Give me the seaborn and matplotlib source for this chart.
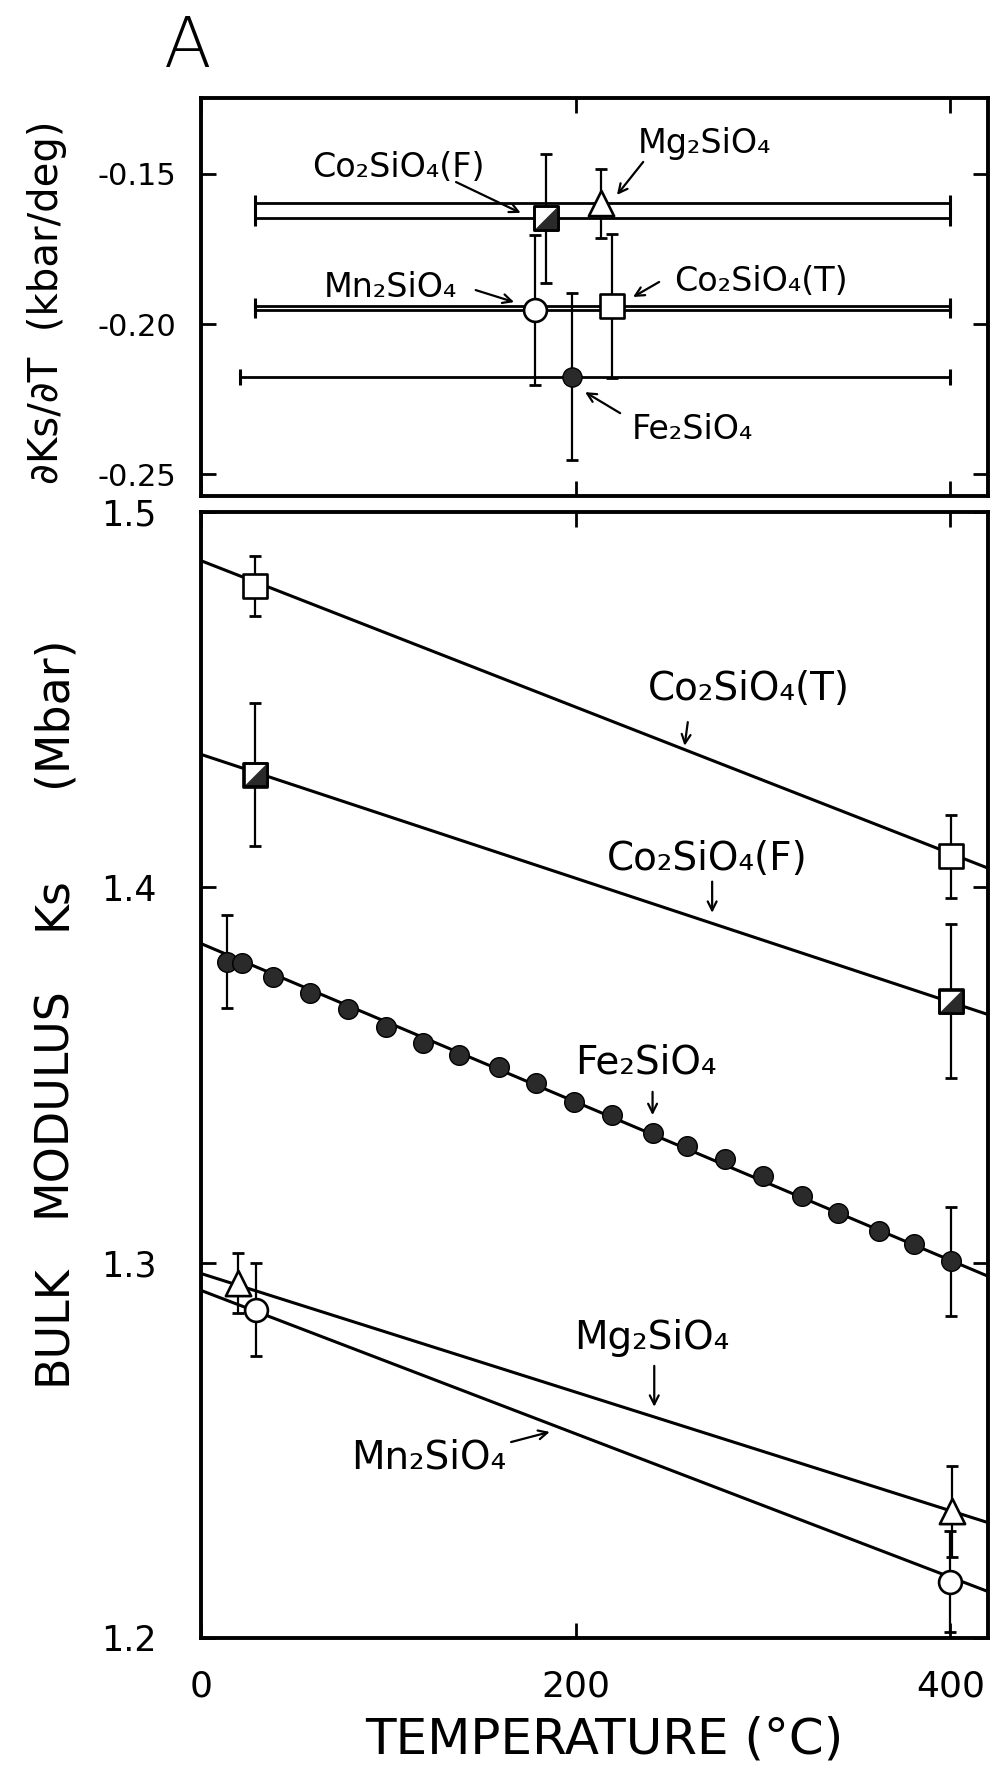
import numpy as np
import pandas as pd
import matplotlib
matplotlib.use("Agg")
import matplotlib.pyplot as plt
from matplotlib.path import Path
import seaborn as sns

# ---------------- data ----------------
compounds = ["Co2SiO4(T)", "Co2SiO4(F)", "Fe2SiO4", "Mg2SiO4", "Mn2SiO4"]
labels = ["Co₂SiO₄(T)", "Co₂SiO₄(F)", "Fe₂SiO₄", "Mg₂SiO₄", "Mn₂SiO₄"]

# upper panel: dKs/dT (kbar/deg), plotted at a mid temperature, with temperature range bars
dk_T = [219.6, 184.0, 198.0, 213.5, 178.0]
dk_val = [-0.1940, -0.1647, -0.2175, -0.1597, -0.1953]
dk_err = [0.0240, 0.0215, 0.0277, 0.0115, 0.0250]
range_lo = [29, 29, 21, 29, 29]
range_hi = [400, 400, 400, 400, 400]

# lower panel: fitted lines Ks = K0 + slope*T  (Mbar)
fit_K0 = [1.4870, 1.4354, 1.3850, 1.2971, 1.2926]
fit_slope = [-0.000195, -0.000165, -0.000211, -0.000158, -0.000191]

cot_T = [29.0, 400.4]
cot_K = [1.4803, 1.4082]
cot_err = [0.0080, 0.0110]

cof_T = [29.0, 400.4]
cof_K = [1.4300, 1.3696]
cof_err = [0.0190, 0.0205]

mg_T = [19.6, 401.0]
mg_K = [1.2945, 1.2337]
mg_err = [0.0080, 0.0120]

mn_T = [29.2, 400.0]
mn_K = [1.2875, 1.2150]
mn_err = [0.0125, 0.0135]

fe_T = [13.7, 21.7, 38.3, 58.2, 78.3, 98.6, 118.4, 137.7, 159.3, 178.9, 199.1,
        219.6, 241.0, 259.3, 279.9, 300.0, 320.5, 340.0, 361.6, 380.3, 400.3]
fe_K = [1.3802, 1.3799, 1.3760, 1.3719, 1.3675, 1.3627, 1.3584, 1.3553, 1.3522,
        1.3478, 1.3429, 1.3393, 1.3346, 1.3311, 1.3275, 1.3232, 1.3178, 1.3131,
        1.3085, 1.3049, 1.3004]
fe_err_T = [13.7, 400.3]
fe_err_K = [1.3802, 1.3004]
fe_err = [0.0124, 0.0145]

# ---------------- style ----------------
sns.set_style("ticks")
plt.rcParams["font.family"] = ["DejaVu Sans"]
plt.rcParams["axes.unicode_minus"] = False
for key in ["text.color", "axes.labelcolor", "xtick.color", "ytick.color",
            "axes.edgecolor"]:
    plt.rcParams[key] = "black"

INK = "black"
DARK = "#2a2a2a"
half_tri = Path([(-1, -1), (1, -1), (1, 1), (-1, -1)],
                [Path.MOVETO, Path.LINETO, Path.LINETO, Path.CLOSEPOLY])

fig = plt.figure(figsize=(10.07, 17.88), dpi=100)
ax1 = fig.add_axes([0.1996, 0.7226, 0.7815, 0.2226])
ax2 = fig.add_axes([0.1996, 0.0839, 0.7815, 0.6298])

for ax in (ax1, ax2):
    for sp in ax.spines.values():
        sp.set_linewidth(2.8)
        sp.set_color(INK)
    ax.tick_params(direction="in", length=11, width=2, top=True, right=True,
                   colors=INK, labelcolor=INK)
    ax.set_xlim(0, 420)
    ax.set_xticks([0, 200, 400])
    ax.set_xlabel("")
    ax.set_ylabel("")
    ax.grid(False)


def marker_points(ax, x, y, kind, size):
    if kind == "square":
        sns.scatterplot(x=x, y=y, marker="s", s=size, color="white",
                        edgecolor=INK, linewidth=1.9, zorder=5, ax=ax)
    elif kind == "half":
        sns.scatterplot(x=x, y=y, marker="s", s=size, color="white",
                        edgecolor=INK, linewidth=1.9, zorder=5, ax=ax)
        sns.scatterplot(x=x, y=y, marker=half_tri, s=size, color=DARK,
                        edgecolor=DARK, linewidth=0.5, zorder=6, ax=ax)
        sns.scatterplot(x=x, y=y, marker="s", s=size, color="none",
                        edgecolor=INK, linewidth=1.9, zorder=7, ax=ax)
    elif kind == "open_circle":
        sns.scatterplot(x=x, y=y, marker="o", s=size, color="white",
                        edgecolor=INK, linewidth=1.9, zorder=5, ax=ax)
    elif kind == "triangle":
        sns.scatterplot(x=x, y=y, marker="^", s=size, color="white",
                        edgecolor=INK, linewidth=1.9, zorder=5, ax=ax)
    elif kind == "dot":
        sns.scatterplot(x=x, y=y, marker="o", s=size, color=DARK,
                        edgecolor=INK, linewidth=1.0, zorder=5, ax=ax)


kinds = ["square", "half", "dot", "triangle", "open_circle"]
sizes = [290, 290, 190, 330, 270]

# ---------------- upper panel ----------------
for i in range(len(compounds)):
    mid = (range_lo[i] + range_hi[i]) / 2
    half = (range_hi[i] - range_lo[i]) / 2
    ax1.errorbar([mid], [dk_val[i]], xerr=[half], fmt="none", ecolor=INK,
                 elinewidth=2.0, capsize=5.5, capthick=2.2, zorder=1)
    ax1.errorbar([dk_T[i]], [dk_val[i]], yerr=[dk_err[i]], fmt="none",
                 ecolor=INK, elinewidth=1.6, capsize=4.5, capthick=2.0, zorder=2)
    marker_points(ax1, [dk_T[i]], [dk_val[i]], kinds[i], sizes[i])

ax1.set_ylim(-0.2573, -0.1247)
ax1.set_yticks([-0.25, -0.20, -0.15])
ax1.set_yticklabels(["-0.25", "-0.20", "-0.15"])
ax1.tick_params(axis="y", labelsize=22, pad=18)
ax1.tick_params(axis="x", labelbottom=False)

arrow_kw = dict(arrowstyle="->", lw=1.6, color=INK, mutation_scale=16,
                shrinkA=0, shrinkB=0)
top_fs = 24
ax1.text(105.4, -0.1477, labels[1], fontsize=top_fs, ha="center", va="center")
ax1.annotate("", xy=(170.6, -0.1630), xytext=(136.1, -0.1527), arrowprops=arrow_kw)
ax1.text(268.6, -0.1397, labels[3], fontsize=top_fs, ha="center", va="center")
ax1.annotate("", xy=(222.0, -0.1570), xytext=(236.0, -0.1460), arrowprops=arrow_kw)
ax1.text(101.0, -0.1877, labels[4], fontsize=top_fs, ha="center", va="center")
ax1.annotate("", xy=(167.1, -0.1927), xytext=(146.6, -0.1887), arrowprops=arrow_kw)
ax1.text(299.0, -0.1860, labels[0], fontsize=top_fs, ha="center", va="center")
ax1.annotate("", xy=(230.6, -0.1910), xytext=(244.5, -0.1860), arrowprops=arrow_kw)
ax1.text(262.5, -0.2353, labels[2], fontsize=top_fs, ha="center", va="center")
ax1.annotate("", xy=(205.0, -0.2227), xytext=(223.7, -0.2297), arrowprops=arrow_kw)

# ---------------- lower panel ----------------
T_line = np.array([0.0, 425.0])
rows = []
for c, k0, sl in zip(compounds, fit_K0, fit_slope):
    for t in T_line:
        rows.append({"compound": c, "T": t, "Ks": k0 + sl * t})
lines_df = pd.DataFrame(rows)
sns.lineplot(data=lines_df, x="T", y="Ks", hue="compound",
             palette={c: INK for c in compounds}, legend=False,
             linewidth=2.2, zorder=2, ax=ax2)

eb_kw = dict(fmt="none", ecolor=INK, elinewidth=1.6, capsize=4.5, capthick=2.0,
             zorder=3)
ax2.errorbar(cot_T, cot_K, yerr=cot_err, **eb_kw)
ax2.errorbar(cof_T, cof_K, yerr=cof_err, **eb_kw)
ax2.errorbar(fe_err_T, fe_err_K, yerr=fe_err, **eb_kw)
ax2.errorbar(mg_T, mg_K, yerr=mg_err, **eb_kw)
ax2.errorbar(mn_T, mn_K, yerr=mn_err, **eb_kw)

marker_points(ax2, cot_T, cot_K, "square", 290)
marker_points(ax2, cof_T, cof_K, "half", 290)
marker_points(ax2, fe_T, fe_K, "dot", 200)
marker_points(ax2, mg_T, mg_K, "triangle", 330)
marker_points(ax2, mn_T, mn_K, "open_circle", 270)

ax2.set_ylim(1.2, 1.5)
ax2.set_yticks([1.2, 1.3, 1.4, 1.5])
ax2.set_yticklabels(["1.2", "1.3", "1.4", "1.5"])
ax2.tick_params(axis="y", labelsize=25, pad=32)
ax2.tick_params(axis="x", labelsize=26, pad=23)
ax2.set_xlabel("")
ax2.set_ylabel("")

bot_fs = 28
ax2.text(292.6, 1.4529, labels[0], fontsize=bot_fs, ha="center", va="center")
ax2.annotate("", xy=(258.1, 1.4377), xytext=(259.8, 1.4440), arrowprops=arrow_kw)
ax2.text(270.2, 1.4075, labels[1], fontsize=bot_fs, ha="center", va="center")
ax2.annotate("", xy=(272.8, 1.3932), xytext=(272.8, 1.4015), arrowprops=arrow_kw)
ax2.text(237.6, 1.3532, labels[2], fontsize=bot_fs, ha="center", va="center")
ax2.annotate("", xy=(241.0, 1.3393), xytext=(241.0, 1.3455), arrowprops=arrow_kw)
ax2.text(240.8, 1.2799, labels[3], fontsize=bot_fs, ha="center", va="center")
ax2.annotate("", xy=(241.9, 1.2616), xytext=(241.9, 1.2725), arrowprops=arrow_kw)
ax2.text(121.7, 1.2480, labels[4], fontsize=bot_fs, ha="center", va="center")
ax2.annotate("", xy=(186.1, 1.2549), xytext=(165.5, 1.2522), arrowprops=arrow_kw)

# ---------------- axis titles & panel letter ----------------
W, H = 1007.0, 1788.0
fig.text(188 / W, 1 - 48 / H, "A", fontsize=50, ha="center", va="center",
         fontweight="light")
fig.text(47 / W, 1 - 302 / H, "∂Ks/∂T  (kbar/deg)", fontsize=29,
         rotation=90, ha="center", va="center")
for word, yc in [("BULK", 1325), ("MODULUS", 1102), ("Ks", 903), ("(Mbar)", 711)]:
    fig.text(53 / W, 1 - yc / H, word, fontsize=33, rotation=90,
             ha="center", va="center")
fig.text(604 / W, 1 - 1739 / H, "TEMPERATURE (°C)", fontsize=36,
         ha="center", va="center")

fig.savefig("out.png", dpi=100, facecolor="white")
